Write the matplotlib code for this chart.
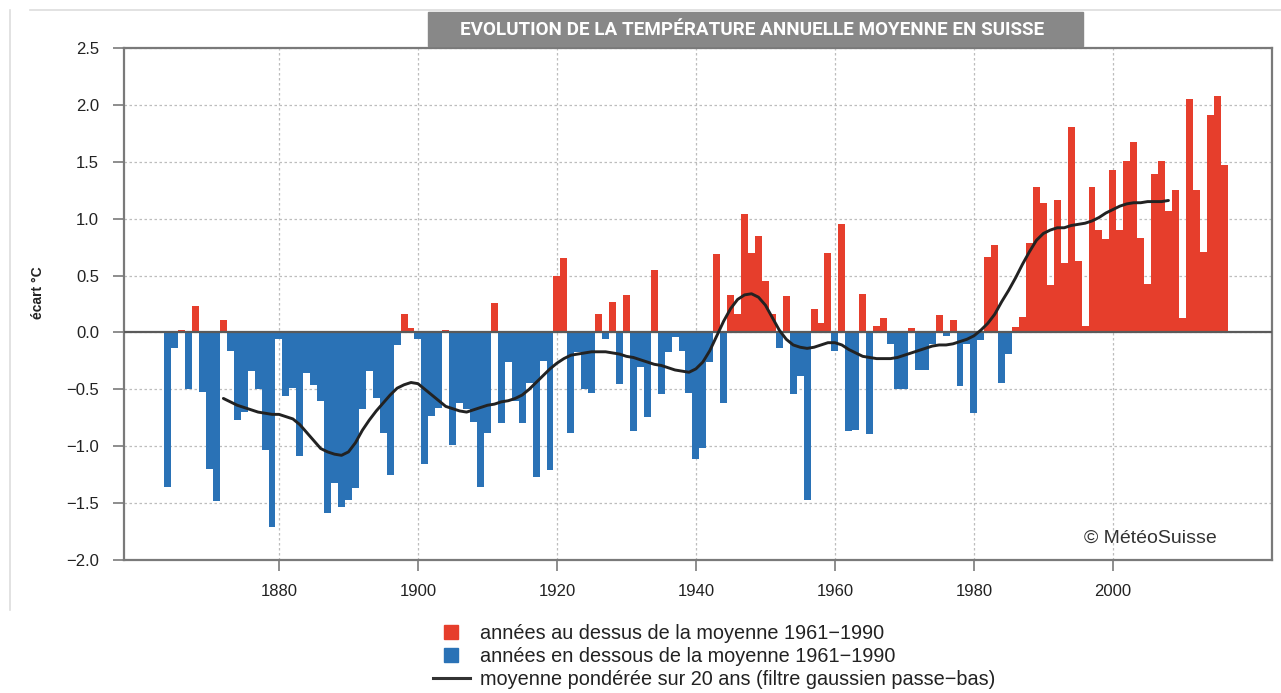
"""
Evolution de la température annuelle moyenne en Suisse (écart vs 1961-1990).
"""

import numpy as np
import matplotlib as mpl
import matplotlib.pyplot as plt
from matplotlib import font_manager
from matplotlib.lines import Line2D
from matplotlib.patches import Rectangle

# ── data ─────────────────────────────────────────────────────────────────────
YEARS = np.arange(1864, 2017)
ANOMALY = [
    -1.36, -0.14, 0.02, -0.50, 0.23, -0.52,                                  # 1864-1869
    -1.20, -1.48, 0.11, -0.16, -0.77, -0.70, -0.34, -0.50, -1.03, -1.71,     # 1870s
    -0.06, -0.56, -0.49, -1.09, -0.36, -0.46, -0.60, -1.59, -1.32, -1.53,    # 1880s
    -1.47, -1.37, -0.67, -0.34, -0.58, -0.88, -1.25, -0.11, 0.16, 0.04,      # 1890s
    -0.06, -1.16, -0.73, -0.66, 0.02, -0.99, -0.62, -0.67, -0.79, -1.36,     # 1900s
    -0.88, 0.26, -0.80, -0.26, -0.60, -0.80, -0.44, -1.27, -0.25, -1.21,     # 1910s
    0.50, 0.65, -0.88, -0.17, -0.50, -0.53, 0.16, -0.06, 0.27, -0.45,        # 1920s
    0.33, -0.87, -0.30, -0.74, 0.55, -0.54, -0.17, -0.04, -0.16, -0.53,      # 1930s
    -1.11, -1.02, -0.26, 0.69, -0.62, 0.33, 0.16, 1.04, 0.70, 0.85,          # 1940s
    0.45, 0.16, -0.14, 0.32, -0.54, -0.38, -1.47, 0.21, 0.08, 0.70,          # 1950s
    -0.16, 0.95, -0.87, -0.86, 0.34, -0.89, 0.06, 0.13, -0.10, -0.50,        # 1960s
    -0.50, 0.04, -0.33, -0.33, -0.10, 0.15, -0.03, 0.11, -0.47, -0.10,       # 1970s
    -0.71, -0.07, 0.66, 0.77, -0.44, -0.19, 0.05, 0.14, 0.79, 1.28,          # 1980s
    1.14, 0.42, 1.16, 0.61, 1.81, 0.63, 0.06, 1.28, 0.90, 0.82,              # 1990s
    1.43, 0.90, 1.51, 1.67, 0.83, 0.43, 1.39, 1.51, 1.07, 1.25,              # 2000s
    0.13, 2.05, 1.25, 0.71, 1.91, 2.08, 1.47,                                # 2010-2016
]

SMOOTH_YEARS = np.arange(1872, 2009)
SMOOTH = [
    -0.58, -0.61, -0.64, -0.66, -0.68, -0.70, -0.71, -0.72,                  # 1872-1879
    -0.72, -0.74, -0.76, -0.81, -0.88, -0.95, -1.02, -1.05, -1.07, -1.08,    # 1880s
    -1.05, -0.97, -0.86, -0.77, -0.69, -0.62, -0.55, -0.49, -0.46, -0.44,    # 1890s
    -0.45, -0.50, -0.55, -0.60, -0.65, -0.67, -0.69, -0.70, -0.68, -0.66,    # 1900s
    -0.64, -0.63, -0.61, -0.60, -0.58, -0.55, -0.50, -0.44, -0.38, -0.32,    # 1910s
    -0.27, -0.23, -0.20, -0.19, -0.18, -0.17, -0.17, -0.17, -0.18, -0.19,    # 1920s
    -0.21, -0.22, -0.24, -0.26, -0.28, -0.29, -0.31, -0.33, -0.34, -0.35,    # 1930s
    -0.32, -0.26, -0.16, -0.03, 0.10, 0.21, 0.29, 0.33, 0.34, 0.31,          # 1940s
    0.24, 0.13, 0.02, -0.06, -0.11, -0.13, -0.14, -0.13, -0.11, -0.09,       # 1950s
    -0.09, -0.11, -0.15, -0.18, -0.21, -0.22, -0.23, -0.23, -0.23, -0.22,    # 1960s
    -0.20, -0.18, -0.16, -0.14, -0.12, -0.11, -0.11, -0.10, -0.08, -0.06,    # 1970s
    -0.03, 0.02, 0.08, 0.16, 0.27, 0.37, 0.48, 0.60, 0.71, 0.81,             # 1980s
    0.87, 0.90, 0.92, 0.92, 0.94, 0.95, 0.96, 0.98, 1.01, 1.05,              # 1990s
    1.08, 1.11, 1.13, 1.14, 1.14, 1.15, 1.15, 1.15, 1.16,                    # 2000-2008
]

X_TICKS = [1880, 1900, 1920, 1940, 1960, 1980, 2000]
Y_TICKS = [-2.0, -1.5, -1.0, -0.5, 0.0, 0.5, 1.0, 1.5, 2.0, 2.5]
Y_LABELS = ["−2.0", "−1.5", "−1.0", "−0.5", "0.0", "0.5", "1.0", "1.5", "2.0", "2.5"]

TITLE = "EVOLUTION DE LA TEMPÉRATURE ANNUELLE MOYENNE EN SUISSE"
LEG_ABOVE = "années au dessus de la moyenne 1961−1990"
LEG_BELOW = "années en dessous de la moyenne 1961−1990"
LEG_LINE = "moyenne pondérée sur 20 ans (filtre gaussien passe−bas)"

RED = "#E63E2C"
BLUE = "#2A72B6"

# ── style ────────────────────────────────────────────────────────────────────
mpl.rcParams.update({
    "font.family": ["Liberation Sans", "DejaVu Sans"],
    "figure.facecolor": "white",
    "axes.facecolor": "white",
})

installed = {f.name for f in font_manager.fontManager.ttflist}
if "Liberation Sans Narrow" in installed:
    title_font, title_size = "Liberation Sans Narrow", 13.5
elif "DejaVu Sans Condensed" in installed:
    title_font, title_size = "DejaVu Sans Condensed", 11.5
else:
    title_font, title_size = "Roboto", 13.6

W, H = 1281, 693
fig = plt.figure(figsize=(W / 100, H / 100), dpi=100)
ax = fig.add_axes([124 / W, 1 - 560 / H, (1272 - 124) / W, 512 / H])

# ── bars + smoothed curve ────────────────────────────────────────────────────
vals = np.array(ANOMALY)
colors = [RED if v > 0 else BLUE for v in vals]
ax.bar(YEARS, vals, width=1.0, color=colors, linewidth=0, zorder=2)
ax.plot(SMOOTH_YEARS, SMOOTH, color="#222222", lw=2.1, zorder=4,
        solid_capstyle="round", solid_joinstyle="round")
ax.axhline(0, color="#5a5a5a", lw=1.6, zorder=3)

# ── axes ─────────────────────────────────────────────────────────────────────
ax.set_xlim(1857.7, 2022.9)
ax.set_ylim(-2.0, 2.5)
ax.set_xticks(X_TICKS)
ax.set_yticks(Y_TICKS)
ax.set_yticklabels(Y_LABELS)
ax.set_axisbelow(True)
ax.grid(True, color="#bdbdbd", linestyle=(0, (2, 2)), linewidth=0.9)

for sp in ax.spines.values():
    sp.set_color("#7a7a7a")
    sp.set_linewidth(1.6)
ax.tick_params(axis="both", direction="out", length=8, width=1.2,
               color="#7a7a7a", labelsize=12, labelcolor="#222222")
ax.tick_params(axis="y", pad=10)
ax.tick_params(axis="x", pad=9)

ax.set_ylabel("écart °C", fontsize=10, fontweight="bold", color="#222222")
ax.yaxis.set_label_coords(-0.069, 0.523)

fig.text(1217 / W, 1 - 538 / H, "© MétéoSuisse", ha="right", va="center",
         fontsize=14, color="#333333")

# ── title banner + page frame ────────────────────────────────────────────────
fig.add_artist(Line2D([30 / W, 1], [1 - 10 / H] * 2, color="#dddddd", lw=1.2))
fig.add_artist(Line2D([10 / W] * 2, [1 - 10 / H, 1 - 610 / H], color="#dddddd", lw=1.2))
fig.add_artist(Rectangle((428 / W, 1 - 46 / H), 655 / W, 34 / H,
                         transform=fig.transFigure, color="#888888", zorder=5))
fig.text(752 / W, 1 - 30 / H, TITLE, ha="center", va="center", color="white",
         fontsize=title_size, fontweight="bold", family=title_font, zorder=6)

# ── legend ───────────────────────────────────────────────────────────────────
handles = [
    Line2D([], [], marker="s", linestyle="none", markersize=10, color=RED),
    Line2D([], [], marker="s", linestyle="none", markersize=10, color=BLUE),
    Line2D([], [], color="#333333", lw=2.2),
]
fig.legend(handles, [LEG_ABOVE, LEG_BELOW, LEG_LINE],
           loc="upper left", bbox_to_anchor=(433 / W, 1 - 624 / H),
           frameon=False, fontsize=14.3, handlelength=1.85, handletextpad=0.5,
           labelspacing=0.2, borderpad=0, borderaxespad=0, labelcolor="#222222")

fig.savefig("out.png", dpi=100, facecolor="white")
